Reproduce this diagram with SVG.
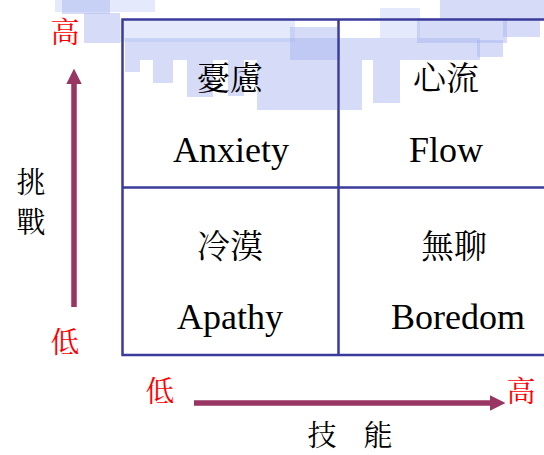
<svg xmlns="http://www.w3.org/2000/svg" width="544" height="455" viewBox="0 0 544 455">
<style>
.wm{fill:#a3b1ee;opacity:.45}
.wl{fill:#c4cef6;opacity:.45}
.grid{stroke:#3b3b9c;stroke-width:2.5;fill:none}
.en{font-family:"Liberation Serif","Times New Roman",serif;font-size:36px;fill:#000;text-anchor:middle}
.zh{font-family:"Noto Serif CJK TC","Noto Sans CJK TC",serif;font-size:33px;fill:#000;text-anchor:middle}
.side{font-family:"Noto Serif CJK TC","Noto Sans CJK TC",serif;font-size:29px;fill:#000;text-anchor:middle}
.red{font-family:"Noto Serif CJK TC","Noto Sans CJK TC",serif;font-size:29px;fill:#ff0000;text-anchor:middle}
.ax{stroke:#983563;stroke-width:5.5;fill:none}
</style>
<defs>
<marker id="ah" viewBox="0 0 10 10" refX="0" refY="5" markerWidth="2.8" markerHeight="2.8" orient="auto" markerUnits="strokeWidth">
<path d="M0,0 L10,5 L0,10 z" fill="#983563"/>
</marker>
</defs>
<g id="watermark">
<rect class="wl" x="55" y="0" width="100" height="12"/>
<rect class="wm" x="62" y="0" width="48" height="14"/>
<rect class="wm" x="84" y="13" width="36" height="30"/>
<rect class="wl" x="120" y="20" width="175" height="22"/>
<rect class="wm" x="125" y="38" width="355" height="22"/>
<rect class="wm" x="125" y="60" width="15" height="12"/>
<rect class="wm" x="153" y="60" width="20" height="23"/>
<rect class="wm" x="187" y="60" width="26" height="37"/>
<rect class="wm" x="228" y="60" width="16" height="36"/>
<rect class="wm" x="257" y="60" width="33" height="50"/>
<rect class="wm" x="290" y="27" width="47" height="83"/>
<rect class="wm" x="340" y="60" width="22" height="50"/>
<rect class="wm" x="373" y="60" width="27" height="43"/>
<rect class="wl" x="380" y="8" width="40" height="30"/>
<rect class="wm" x="417" y="18" width="90" height="25"/>
<rect class="wm" x="440" y="0" width="104" height="20"/>
<rect class="wm" x="477" y="40" width="26" height="17"/>
<rect class="wm" x="503" y="20" width="37" height="17"/>
</g>
<g id="grid">
<path class="grid" d="M544,19.5 H122.5 V355 H544 M338.5,19.5 V355 M122.5,187.5 H544"/>
</g>
<g id="anxiety"><text class="zh" x="230" y="90">憂慮</text><text class="en" x="231" y="162">Anxiety</text></g>
<g id="flow"><text class="zh" x="446" y="90">心流</text><text class="en" x="446" y="162">Flow</text></g>
<g id="apathy"><text class="zh" x="230" y="258">冷漠</text><text class="en" x="230" y="329">Apathy</text></g>
<g id="boredom"><text class="zh" x="454" y="258">無聊</text><text class="en" x="458" y="329">Boredom</text></g>
<g id="connectors">
<line class="ax" x1="74" y1="307" x2="74" y2="84" marker-end="url(#ah)"/>
<line class="ax" x1="194" y1="403" x2="490" y2="403" marker-end="url(#ah)"/>
</g>
<g id="labels">
<text class="red" x="65" y="43">高</text>
<text class="red" x="65" y="353">低</text>
<text class="red" x="160" y="402">低</text>
<text class="red" x="521" y="402">高</text>
<text class="side" x="31" y="193">挑</text>
<text class="side" x="31" y="233">戰</text>
<text class="side" x="322" y="446">技</text>
<text class="side" x="378" y="446">能</text>
</g>
</svg>
